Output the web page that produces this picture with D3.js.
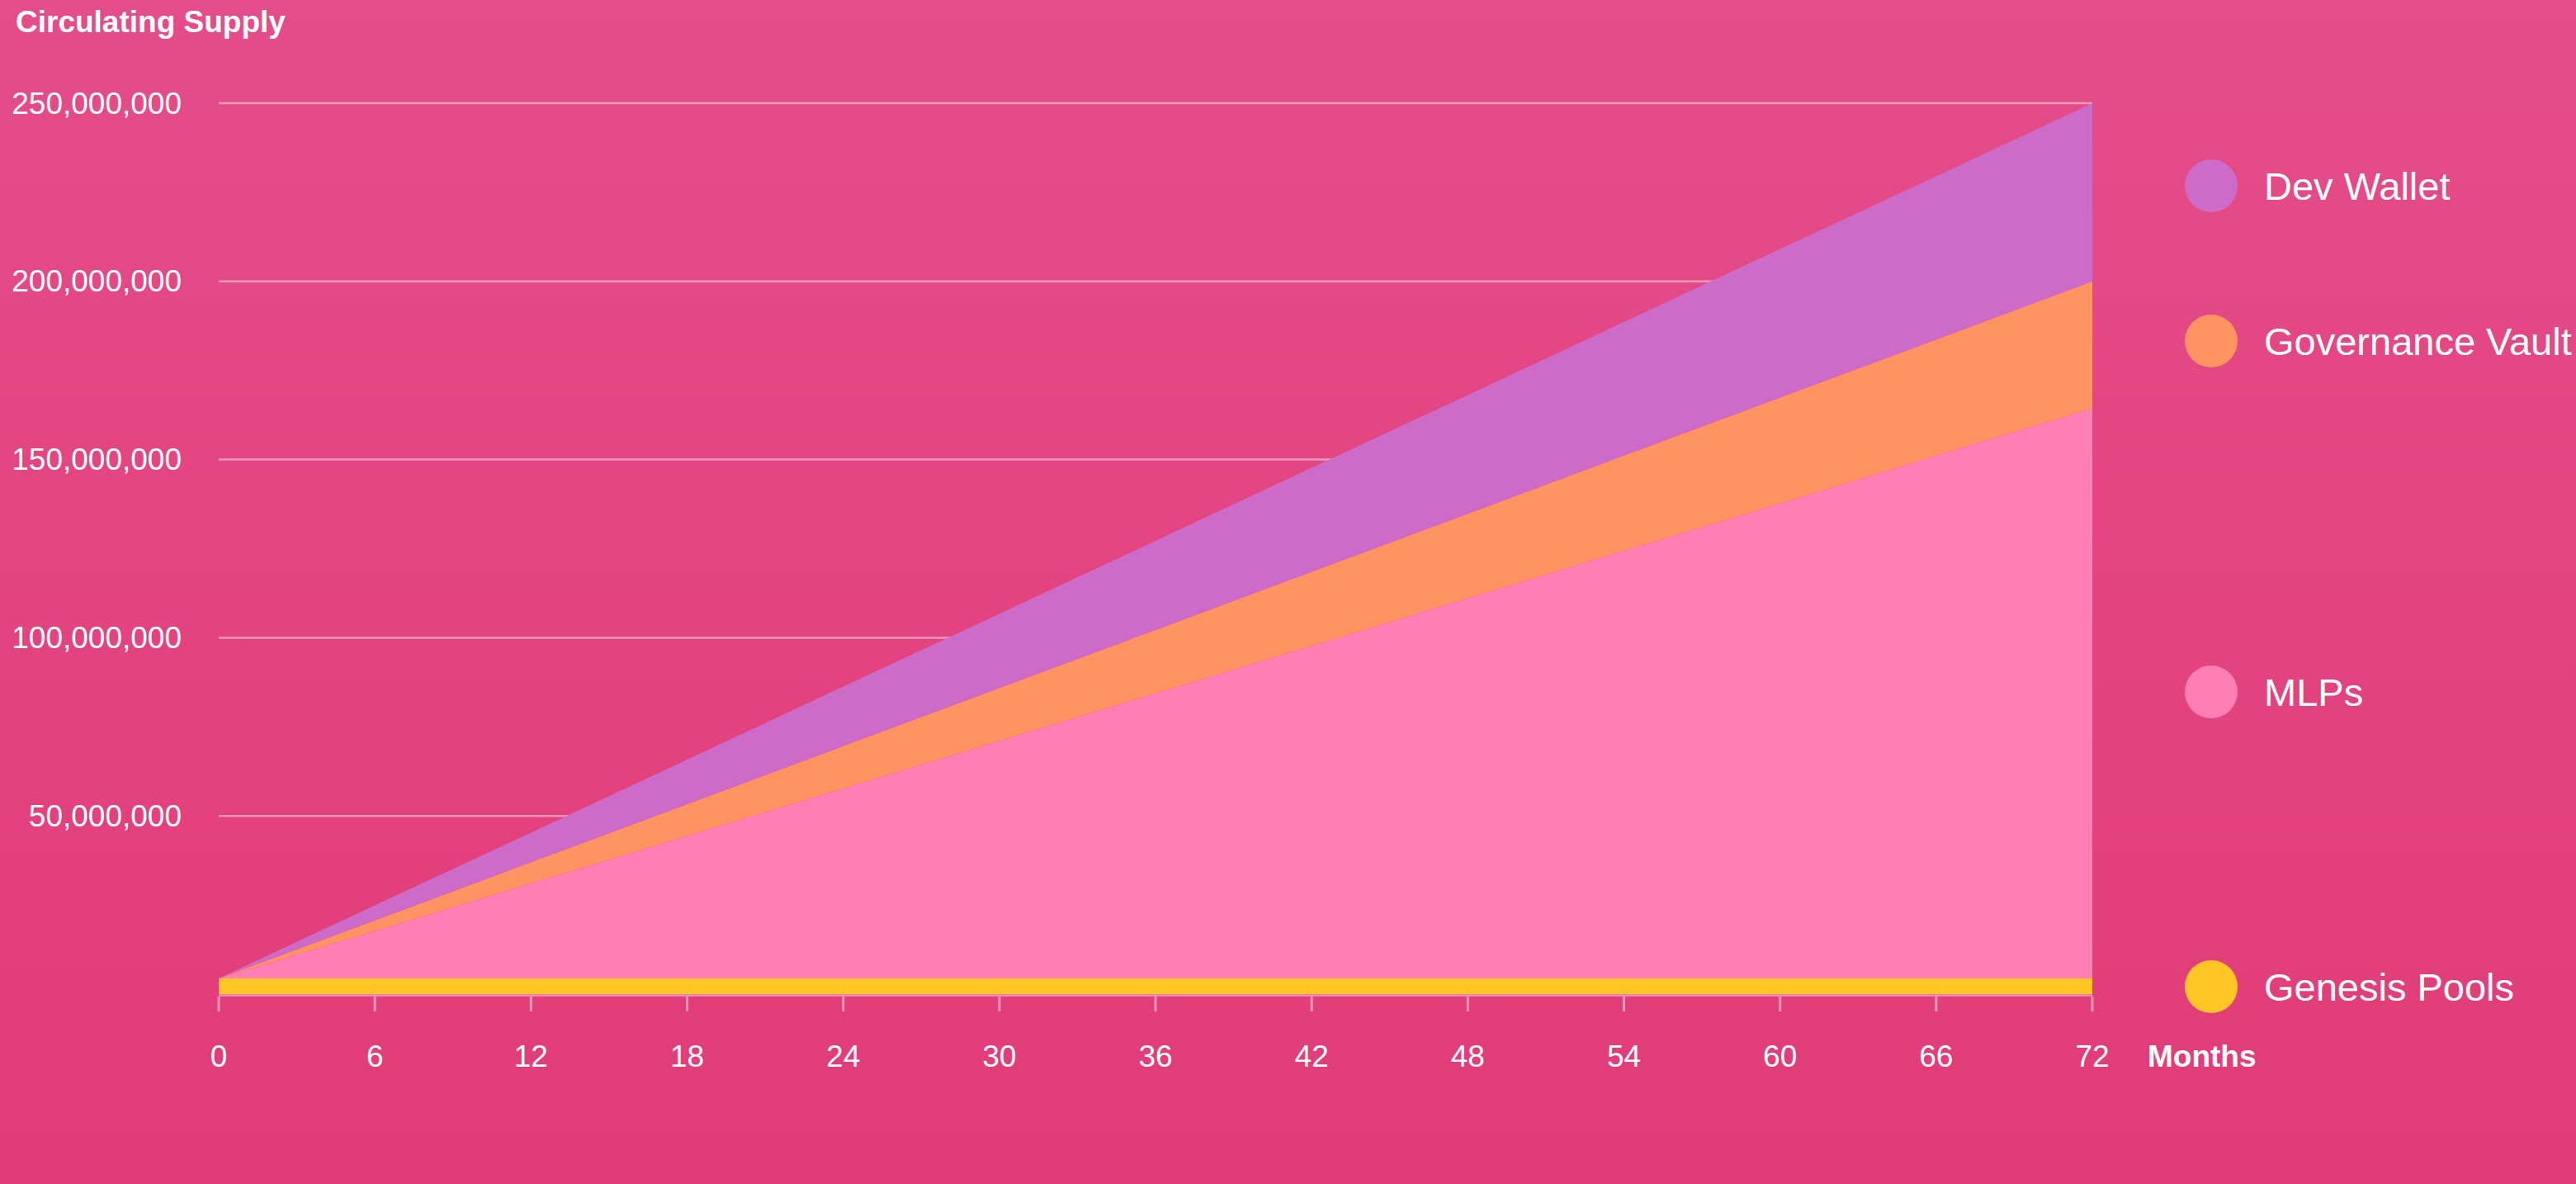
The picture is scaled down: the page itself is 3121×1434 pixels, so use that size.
<!DOCTYPE html>
<html>
<head>
<meta charset="utf-8">
<script src="https://cdn.jsdelivr.net/npm/d3@7"></script>
<style>
  html, body { margin: 0; padding: 0; }
  body { width: 3121px; height: 1434px; overflow: hidden; }
  svg { display: block; font-family: "Liberation Sans", Arial, Helvetica, sans-serif; }
</style>
</head>
<body>
<svg id="chart" width="3121" height="1434"></svg>
<script>
// ---- data (values in millions of tokens) ----
const months = [0, 6, 12, 18, 24, 30, 36, 42, 48, 54, 60, 66, 72];
const seriesNames = ["Genesis Pools", "MLPs", "Governance Vault", "Dev Wallet"];
const genesisPools    = [4.4, 4.4, 4.4, 4.4, 4.4, 4.4, 4.4, 4.4, 4.4, 4.4, 4.4, 4.4, 4.4];
const mlps            = [0, 13.3, 26.7, 40, 53.3, 66.7, 80, 93.3, 106.7, 120, 133.3, 146.7, 160];
const governanceVault = [0, 3.0, 5.9, 8.9, 11.9, 14.8, 17.8, 20.8, 23.7, 26.7, 29.7, 32.6, 35.6];
const devWallet       = [0, 4.2, 8.3, 12.5, 16.7, 20.8, 25, 29.2, 33.3, 37.5, 41.7, 45.8, 50];
const seriesColors = ["#FFC626", "#FF7EB4", "#FF9362", "#CC6CC8"];
const yTickValues = [50000000, 100000000, 150000000, 200000000, 250000000];
const xTickValues = [0, 6, 12, 18, 24, 30, 36, 42, 48, 54, 60, 66, 72];
const yAxisTitle = "Circulating Supply";
const xAxisTitle = "Months";
// legend order (top to bottom)
const legendOrder = ["Dev Wallet", "Governance Vault", "MLPs", "Genesis Pools"];

// ---- build table ----
const M = 1e6;
const table = months.map((m, i) => ({
  month: m,
  "Genesis Pools": genesisPools[i] * M,
  "MLPs": mlps[i] * M,
  "Governance Vault": governanceVault[i] * M,
  "Dev Wallet": devWallet[i] * M
}));

const svg = d3.select("#chart");
const W = 3121, H = 1434;

// background gradient
const defs = svg.append("defs");
const grad = defs.append("linearGradient").attr("id", "bg").attr("x1", 0).attr("y1", 0).attr("x2", 0).attr("y2", 1);
grad.append("stop").attr("offset", "0%").attr("stop-color", "#E44D89");
grad.append("stop").attr("offset", "100%").attr("stop-color", "#E13C77");
svg.append("rect").attr("width", W).attr("height", H).attr("fill", "url(#bg)");

const x = d3.scaleLinear().domain([0, 72]).range([265, 2535]);
const y = d3.scaleLinear().domain([0, 250000000]).range([1204, 125]);

const lineCol = "rgba(255,255,255,0.45)";
const fontSize = 37;

// gridlines
svg.append("g").selectAll("line").data(yTickValues).join("line")
  .attr("x1", x(0)).attr("x2", x(72))
  .attr("y1", d => y(d)).attr("y2", d => y(d))
  .attr("stroke", lineCol).attr("stroke-width", 2.5);

// y labels
const fmt = d3.format(",");
svg.append("g").selectAll("text").data(yTickValues).join("text")
  .attr("x", 220).attr("y", d => y(d)).attr("dy", "0.34em")
  .attr("text-anchor", "end").attr("fill", "#fff")
  .attr("font-size", fontSize).text(d => fmt(d));

// stacked areas
const stack = d3.stack().keys(seriesNames);
const stacked = stack(table);
const area = d3.area()
  .x(d => x(d.data.month))
  .y0(d => y(d[0]))
  .y1(d => y(d[1]));
svg.append("g").selectAll("path").data(stacked).join("path")
  .attr("d", area)
  .attr("fill", (d, i) => seriesColors[i]);

// x axis line and ticks
svg.append("line").attr("x1", x(0)).attr("x2", x(72))
  .attr("y1", 1205.5).attr("y2", 1205.5)
  .attr("stroke", lineCol).attr("stroke-width", 2.7);
svg.append("g").selectAll("line").data(xTickValues).join("line")
  .attr("x1", d => x(d)).attr("x2", d => x(d))
  .attr("y1", 1207).attr("y2", 1225)
  .attr("stroke", lineCol).attr("stroke-width", 3);
svg.append("g").selectAll("text").data(xTickValues).join("text")
  .attr("x", d => x(d)).attr("y", 1292)
  .attr("text-anchor", "middle").attr("fill", "#fff")
  .attr("font-size", fontSize).text(d => d);

// axis titles
svg.append("text").attr("x", 19).attr("y", 39)
  .attr("fill", "#fff").attr("font-weight", "bold").attr("font-size", fontSize)
  .text(yAxisTitle);
svg.append("text").attr("x", 2602).attr("y", 1292)
  .attr("fill", "#fff").attr("font-weight", "bold").attr("font-size", fontSize)
  .text(xAxisTitle);

// legend
const legendY = [225, 413, 838, 1195];
const lg = svg.append("g").selectAll("g").data(legendOrder).join("g")
  .attr("transform", (d, i) => `translate(2679,${legendY[i]})`);
lg.append("circle").attr("r", 32)
  .attr("fill", d => seriesColors[seriesNames.indexOf(d)]);
lg.append("text").attr("x", 64).attr("dy", "0.36em")
  .attr("fill", "#fff").attr("font-size", 47).text(d => d);
</script>
</body>
</html>
